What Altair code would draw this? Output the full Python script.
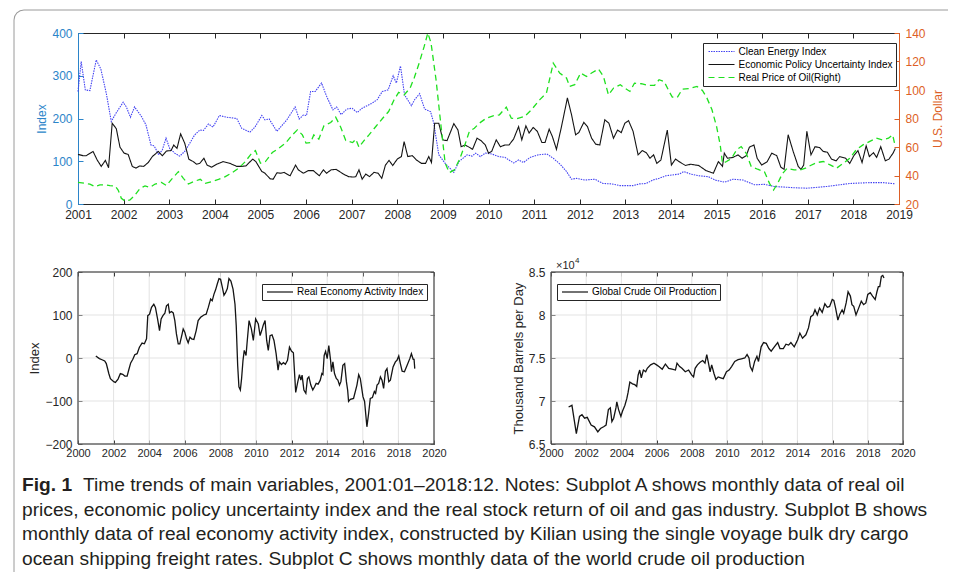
import altair as alt
import pandas as pd

# ---------------- data ----------------
cei = [(2001.00, 263), (2001.07, 333), (2001.16, 267), (2001.26, 265), (2001.40, 337), (2001.50, 316),
       (2001.62, 259), (2001.73, 193), (2001.83, 212), (2001.99, 238), (2002.06, 227), (2002.15, 203),
       (2002.24, 227), (2002.39, 205), (2002.49, 185), (2002.60, 138), (2002.67, 136), (2002.77, 115),
       (2002.85, 127), (2002.93, 154), (2003.01, 130), (2003.12, 119), (2003.23, 112), (2003.34, 123),
       (2003.45, 142), (2003.56, 162), (2003.67, 173), (2003.75, 172), (2003.86, 187), (2003.96, 180),
       (2004.10, 207), (2004.26, 203), (2004.48, 200), (2004.59, 177), (2004.77, 168), (2004.88, 180),
       (2005.03, 207), (2005.10, 197), (2005.19, 199), (2005.36, 170), (2005.58, 197), (2005.76, 227),
       (2005.85, 199), (2005.94, 208), (2006.01, 207), (2006.10, 263), (2006.20, 263), (2006.34, 283),
       (2006.45, 252), (2006.59, 220), (2006.67, 227), (2006.77, 209), (2006.89, 222), (2007.01, 224),
       (2007.12, 214), (2007.23, 224), (2007.45, 236), (2007.56, 244), (2007.67, 263), (2007.80, 267),
       (2007.91, 300), (2007.98, 283), (2008.07, 323), (2008.16, 255), (2008.31, 230), (2008.38, 244),
       (2008.49, 258), (2008.60, 222), (2008.73, 216), (2008.80, 189), (2008.91, 115), (2009.05, 95),
       (2009.24, 74), (2009.35, 99), (2009.53, 115), (2009.64, 112), (2009.72, 119), (2009.82, 111),
       (2009.93, 119), (2010.07, 117), (2010.22, 111), (2010.36, 109), (2010.55, 96), (2010.66, 103),
       (2010.77, 97), (2010.91, 109), (2011.09, 115), (2011.28, 117), (2011.42, 107), (2011.57, 93),
       (2011.71, 76), (2011.82, 58), (2011.93, 60), (2012.11, 56), (2012.33, 58), (2012.51, 48),
       (2012.70, 47), (2012.88, 43), (2013.17, 43), (2013.31, 47), (2013.46, 48), (2013.60, 56),
       (2013.74, 60), (2013.89, 66), (2014.18, 70), (2014.28, 76), (2014.43, 70), (2014.61, 66),
       (2014.82, 64), (2014.97, 56), (2015.18, 51), (2015.36, 58), (2015.58, 56), (2015.83, 45),
       (2016.05, 46), (2016.26, 41), (2016.70, 38), (2016.98, 37), (2017.42, 41), (2017.92, 48),
       (2018.35, 50), (2018.64, 50), (2018.92, 47)]

epu = [(2001.00, 116), (2001.11, 113), (2001.18, 113), (2001.33, 123), (2001.42, 103), (2001.51, 88),
       (2001.60, 102), (2001.67, 85), (2001.75, 189), (2001.84, 176), (2001.92, 133), (2002.01, 119),
       (2002.10, 116), (2002.19, 88), (2002.27, 84), (2002.35, 89), (2002.44, 88), (2002.54, 97),
       (2002.63, 111), (2002.76, 123), (2002.85, 113), (2002.94, 124), (2003.04, 125), (2003.10, 138),
       (2003.17, 130), (2003.25, 164), (2003.34, 142), (2003.43, 105), (2003.53, 99), (2003.60, 93),
       (2003.67, 95), (2003.76, 107), (2003.83, 91), (2003.93, 86), (2004.04, 93), (2004.18, 99),
       (2004.33, 95), (2004.48, 88), (2004.59, 88), (2004.68, 89), (2004.83, 105), (2004.90, 99),
       (2005.03, 76), (2005.10, 72), (2005.21, 59), (2005.28, 58), (2005.36, 73), (2005.44, 72),
       (2005.52, 74), (2005.65, 66), (2005.77, 91), (2005.83, 80), (2005.94, 72), (2006.05, 78),
       (2006.16, 78), (2006.29, 66), (2006.38, 80), (2006.45, 72), (2006.55, 80), (2006.66, 81),
       (2006.82, 70), (2006.93, 64), (2007.04, 63), (2007.09, 64), (2007.16, 80), (2007.23, 58),
       (2007.31, 70), (2007.39, 64), (2007.49, 74), (2007.58, 72), (2007.66, 60), (2007.74, 91),
       (2007.82, 102), (2007.90, 90), (2008.00, 105), (2008.09, 111), (2008.15, 146), (2008.23, 111),
       (2008.33, 113), (2008.42, 103), (2008.53, 95), (2008.62, 95), (2008.69, 111), (2008.75, 97),
       (2008.82, 189), (2008.91, 189), (2009.00, 150), (2009.09, 148), (2009.24, 188), (2009.33, 173),
       (2009.40, 134), (2009.49, 138), (2009.59, 132), (2009.65, 128), (2009.75, 154), (2009.84, 148),
       (2009.93, 138), (2010.00, 119), (2010.07, 123), (2010.17, 150), (2010.26, 134), (2010.36, 138),
       (2010.45, 138), (2010.55, 152), (2010.66, 181), (2010.73, 150), (2010.82, 183), (2010.89, 166),
       (2010.98, 179), (2011.07, 170), (2011.17, 144), (2011.24, 144), (2011.33, 175), (2011.40, 158),
       (2011.49, 128), (2011.60, 181), (2011.73, 248), (2011.82, 209), (2011.91, 162), (2011.98, 167),
       (2012.09, 191), (2012.17, 181), (2012.26, 154), (2012.35, 140), (2012.44, 138), (2012.55, 197),
       (2012.64, 189), (2012.74, 154), (2012.83, 173), (2012.91, 167), (2012.99, 189), (2013.07, 195),
       (2013.17, 170), (2013.28, 115), (2013.37, 125), (2013.46, 120), (2013.54, 107), (2013.62, 115),
       (2013.69, 95), (2013.78, 103), (2013.92, 173), (2014.01, 91), (2014.10, 105), (2014.21, 97),
       (2014.32, 90), (2014.43, 93), (2014.61, 90), (2014.77, 78), (2014.93, 72), (2015.04, 99),
       (2015.13, 88), (2015.17, 119), (2015.24, 107), (2015.36, 109), (2015.47, 115), (2015.56, 107),
       (2015.65, 113), (2015.72, 133), (2015.82, 138), (2015.89, 107), (2015.99, 91), (2016.11, 99),
       (2016.21, 119), (2016.32, 113), (2016.41, 86), (2016.48, 81), (2016.57, 162), (2016.68, 123),
       (2016.79, 88), (2016.85, 81), (2016.91, 91), (2016.98, 170), (2017.07, 115), (2017.16, 134),
       (2017.26, 132), (2017.34, 123), (2017.43, 121), (2017.52, 105), (2017.62, 101), (2017.70, 111),
       (2017.83, 107), (2017.92, 95), (2018.01, 113), (2018.10, 125), (2018.19, 97), (2018.28, 136),
       (2018.35, 111), (2018.44, 120), (2018.51, 109), (2018.60, 134), (2018.70, 101), (2018.78, 105),
       (2018.87, 119), (2018.92, 130)]

oil = [(2001.00, 35.2), (2001.15, 34.5), (2001.26, 34.0), (2001.37, 32.2), (2001.48, 33.4), (2001.59, 33.4),
       (2001.70, 32.9), (2001.81, 32.7), (2001.88, 29.8), (2001.95, 24.0), (2002.03, 22.1), (2002.14, 22.8),
       (2002.25, 26.3), (2002.36, 31.0), (2002.47, 32.7), (2002.58, 31.7), (2002.69, 34.0), (2002.83, 35.2),
       (2002.94, 32.9), (2003.05, 37.3), (2003.20, 42.7), (2003.31, 38.0), (2003.42, 34.0), (2003.53, 35.7),
       (2003.68, 37.3), (2003.79, 34.5), (2003.93, 35.7), (2004.08, 37.3), (2004.23, 39.2), (2004.38, 42.0),
       (2004.52, 45.1), (2004.67, 49.8), (2004.78, 54.5), (2004.89, 57.5), (2005.00, 48.6), (2005.11, 49.8),
       (2005.26, 56.1), (2005.40, 59.1), (2005.55, 62.7), (2005.70, 68.5), (2005.81, 72.0), (2005.92, 68.5),
       (2006.00, 62.7), (2006.10, 63.1), (2006.17, 68.5), (2006.28, 65.5), (2006.39, 74.8), (2006.54, 77.2),
       (2006.65, 80.9), (2006.76, 73.9), (2006.87, 64.5), (2007.02, 63.1), (2007.09, 65.5), (2007.16, 59.8),
       (2007.27, 64.5), (2007.38, 68.5), (2007.53, 74.4), (2007.68, 80.2), (2007.81, 84.9), (2007.93, 93.1),
       (2008.03, 98.3), (2008.15, 96.6), (2008.28, 101.3), (2008.37, 108.4), (2008.48, 118.9), (2008.59, 130.6),
       (2008.67, 140.0), (2008.74, 133.0), (2008.85, 107.2), (2008.96, 74.4), (2009.05, 48.6), (2009.14, 42.0),
       (2009.25, 43.9), (2009.36, 50.9), (2009.47, 60.3), (2009.58, 70.9), (2009.69, 73.2), (2009.80, 76.7),
       (2009.95, 80.2), (2010.10, 81.9), (2010.24, 82.6), (2010.39, 88.0), (2010.50, 80.2), (2010.61, 79.8),
       (2010.79, 81.4), (2010.94, 86.1), (2011.12, 93.1), (2011.27, 97.8), (2011.42, 118.9), (2011.56, 111.9),
       (2011.71, 108.4), (2011.78, 102.5), (2011.89, 103.7), (2012.02, 111.9), (2012.15, 109.5), (2012.26, 111.9),
       (2012.41, 114.7), (2012.52, 109.5), (2012.63, 96.6), (2012.74, 101.3), (2012.89, 103.7), (2012.99, 101.3),
       (2013.10, 99.0), (2013.20, 104.8), (2013.35, 104.4), (2013.49, 103.2), (2013.64, 103.2), (2013.74, 107.2),
       (2013.85, 106.0), (2013.96, 99.0), (2014.03, 95.0), (2014.14, 94.8), (2014.25, 100.6), (2014.39, 100.9),
       (2014.57, 102.5), (2014.69, 99.7), (2014.79, 94.3), (2014.90, 86.1), (2015.00, 74.4), (2015.08, 61.5),
       (2015.13, 48.6), (2015.22, 49.8), (2015.33, 52.1), (2015.44, 58.0), (2015.54, 60.3), (2015.65, 55.6),
       (2015.76, 46.3), (2015.90, 44.4), (2016.05, 42.7), (2016.16, 34.5), (2016.25, 29.8), (2016.34, 34.5),
       (2016.44, 41.1), (2016.55, 45.1), (2016.70, 43.9), (2016.84, 43.9), (2016.95, 45.1), (2017.06, 47.0),
       (2017.20, 49.1), (2017.34, 49.8), (2017.49, 47.4), (2017.63, 45.1), (2017.78, 48.6), (2017.92, 52.1),
       (2018.06, 58.0), (2018.21, 61.5), (2018.35, 63.8), (2018.50, 66.2), (2018.64, 65.0), (2018.77, 66.2),
       (2018.86, 68.5), (2018.92, 60.3)]

rea = [(2001.00, 4.6), (2001.20, -1.5), (2001.35, -4), (2001.50, -7), (2001.59, -13), (2001.73, -36),
       (2001.82, -48), (2002.01, -55), (2002.10, -57), (2002.25, -49), (2002.38, -36), (2002.51, -38),
       (2002.63, -42), (2002.76, -42), (2002.85, -28), (2002.96, -11.5), (2003.08, -3), (2003.19, 7.7),
       (2003.32, 10), (2003.45, 25), (2003.60, 34.6), (2003.73, 33), (2003.85, 44.6), (2003.92, 98.5),
       (2004.02, 102), (2004.13, 117.7), (2004.26, 125), (2004.35, 117.7), (2004.47, 90.8), (2004.58, 63.8),
       (2004.67, 90.8), (2004.77, 98.5), (2004.88, 104), (2004.97, 121.5), (2005.07, 125), (2005.14, 105),
       (2005.25, 108), (2005.35, 105), (2005.44, 87), (2005.53, 56), (2005.63, 33), (2005.72, 33),
       (2005.85, 56), (2005.91, 67.7), (2006.00, 60), (2006.10, 44.6), (2006.19, 35.4), (2006.29, 48.5),
       (2006.38, 44.6), (2006.51, 43), (2006.64, 63.8), (2006.75, 87), (2006.89, 94.6), (2007.07, 100),
       (2007.20, 102), (2007.32, 117.7), (2007.45, 137), (2007.54, 133), (2007.64, 148.5), (2007.73, 158.5),
       (2007.82, 171.5), (2007.92, 184.6), (2008.01, 183), (2008.11, 164), (2008.20, 146), (2008.29, 152),
       (2008.39, 161.5), (2008.48, 184.6), (2008.59, 179), (2008.71, 160), (2008.82, 125), (2008.89, 75),
       (2008.97, -17), (2009.04, -67), (2009.12, -74.6), (2009.19, -48), (2009.27, -5.4), (2009.34, 17.7),
       (2009.44, 6), (2009.51, 40.8), (2009.61, 87), (2009.74, 67.7), (2009.85, 40.8), (2009.98, 90.8),
       (2010.13, 79), (2010.23, 52), (2010.32, 63.8), (2010.41, 77), (2010.51, 87), (2010.60, 40.8),
       (2010.69, 17.7), (2010.79, 52), (2010.90, 54), (2011.01, 40.8), (2011.13, 10), (2011.24, -28.5),
       (2011.31, -9), (2011.43, -15), (2011.54, -10.8), (2011.65, -14.6), (2011.77, -5.4), (2011.88, 25.4),
       (2011.99, 16), (2012.10, 12.3), (2012.23, -80), (2012.35, -55), (2012.44, -38.5), (2012.52, -51.5),
       (2012.59, -40), (2012.69, -74.6), (2012.80, -82), (2012.89, -47.7), (2012.97, -43.8), (2013.08, -63),
       (2013.19, -74.6), (2013.29, -67), (2013.38, -59), (2013.49, -60.8), (2013.61, -51.5), (2013.70, -36),
       (2013.76, -38.5), (2013.83, 6), (2013.91, 15.4), (2014.00, -1.5), (2014.09, 29), (2014.19, -5.4),
       (2014.24, -32), (2014.32, -9), (2014.41, -36), (2014.51, -47.7), (2014.60, -51.5), (2014.69, -63),
       (2014.77, -55), (2014.88, -17), (2014.98, -13), (2015.08, -55), (2015.15, -75), (2015.20, -101),
       (2015.30, -96), (2015.48, -94), (2015.67, -63), (2015.77, -38.5), (2015.86, -48), (2016.01, -90),
       (2016.10, -101), (2016.23, -160), (2016.33, -128), (2016.42, -94), (2016.54, -92), (2016.65, -78),
       (2016.72, -82), (2016.80, -63), (2016.89, -59), (2016.99, -44), (2017.08, -51.5), (2017.17, -70.8),
       (2017.27, -30.8), (2017.36, -24.6), (2017.46, -55), (2017.55, -51.5), (2017.70, -20.8), (2017.83, -9),
       (2017.92, -5.4), (2018.02, 4.6), (2018.11, -13), (2018.21, -30.8), (2018.34, -32), (2018.49, -17),
       (2018.64, -1.5), (2018.73, 10), (2018.83, -3), (2018.88, -3), (2018.92, -24.6)]

prod = [(2001.00, 69300), (2001.19, 69500), (2001.44, 66200), (2001.62, 68200), (2001.76, 68400),
        (2001.91, 68000), (2002.06, 68100), (2002.28, 67200), (2002.47, 67000), (2002.66, 66400),
        (2002.81, 66800), (2002.99, 67000), (2003.13, 67200), (2003.26, 69000), (2003.37, 69200),
        (2003.46, 67600), (2003.56, 68000), (2003.69, 69200), (2003.74, 69900), (2003.84, 69000),
        (2003.97, 68200), (2004.06, 68800), (2004.20, 69500), (2004.31, 70300), (2004.38, 71000),
        (2004.48, 72200), (2004.63, 72000), (2004.76, 71900), (2004.87, 71700), (2004.95, 73000),
        (2005.04, 73600), (2005.13, 72700), (2005.25, 73600), (2005.38, 73400), (2005.47, 73800),
        (2005.66, 74200), (2005.85, 74400), (2006.00, 74200), (2006.13, 74000), (2006.32, 73700),
        (2006.50, 74300), (2006.69, 73800), (2006.88, 73700), (2007.07, 73600), (2007.16, 74400),
        (2007.31, 74000), (2007.44, 73800), (2007.63, 73400), (2007.82, 73600), (2008.00, 73000),
        (2008.10, 72800), (2008.19, 73800), (2008.32, 74200), (2008.47, 74500), (2008.62, 74700),
        (2008.75, 74400), (2008.85, 75400), (2008.94, 74500), (2009.04, 73400), (2009.13, 74200),
        (2009.26, 73200), (2009.37, 72500), (2009.50, 72800), (2009.64, 72700), (2009.79, 72600),
        (2009.97, 73400), (2010.12, 73600), (2010.26, 74000), (2010.44, 74600), (2010.63, 74800),
        (2010.82, 74900), (2011.01, 75000), (2011.14, 75400), (2011.25, 75000), (2011.32, 74000),
        (2011.44, 73500), (2011.57, 74600), (2011.70, 75200), (2011.79, 74600), (2011.94, 76300),
        (2012.08, 76800), (2012.23, 76700), (2012.38, 76100), (2012.51, 75800), (2012.69, 76300),
        (2012.88, 76800), (2013.01, 76100), (2013.20, 76100), (2013.35, 76600), (2013.50, 76500),
        (2013.63, 76800), (2013.82, 76300), (2014.01, 77100), (2014.14, 77900), (2014.29, 77300),
        (2014.48, 77700), (2014.63, 78500), (2014.76, 79800), (2014.89, 80000), (2015.00, 80600),
        (2015.13, 80000), (2015.26, 80800), (2015.41, 80300), (2015.56, 81300), (2015.70, 80900),
        (2015.83, 81000), (2015.98, 81800), (2016.07, 81700), (2016.17, 80800), (2016.30, 79400),
        (2016.41, 80100), (2016.54, 80600), (2016.63, 80200), (2016.77, 81400), (2016.88, 82700),
        (2017.01, 82200), (2017.10, 81200), (2017.20, 81000), (2017.33, 80000), (2017.48, 80800),
        (2017.63, 81600), (2017.76, 81200), (2017.89, 81400), (2018.00, 82400), (2018.14, 82600),
        (2018.27, 82200), (2018.42, 81800), (2018.52, 82700), (2018.60, 83300), (2018.68, 83300),
        (2018.77, 84500), (2018.85, 84600), (2018.92, 84300)]

CEI_NAME = "Clean Energy Index"
EPU_NAME = "Economic Policy Uncertainty Index"
OIL_NAME = "Real Price of Oil(Right)"
REA_NAME = "Real Economy Activity Index"
PROD_NAME = "Global Crude Oil Production"

top_years = list(range(2001, 2020))
left_ticks = [0, 100, 200, 300, 400]
right_ticks = [20, 40, 60, 80, 100, 120, 140]
bottom_years = list(range(2000, 2021, 2))
rea_ticks = [-200, -100, 0, 100, 200]
prod_ticks = [65000, 70000, 75000, 80000, 85000]

TOP_XDOM, LEFT_DOM, RIGHT_DOM = [2001, 2019], [0, 400], [20, 140]
BOT_XDOM, REA_DOM, PROD_DOM = [2000, 2020], [-200, 200], [65000, 85000]

caption_bold = "Fig. 1"
caption_first = ("Time trends of main variables, 2001:01\u20132018:12. Notes: Subplot A shows "
                 "monthly data of real oil")
caption_rest = [
    "prices, economic policy uncertainty index and the real stock return of oil and gas industry. Subplot B shows",
    "monthly data of real economy activity index, constructed by Kilian using the single voyage bulk dry cargo",
    "ocean shipping freight rates. Subplot C shows monthly data of the world crude oil production",
]

# ---------------- layout / style ----------------
W, H = 940, 564
TOPX, TOPY = [70, 891], [196, 25]
BLX, BRX, BY = [70, 426], [543, 895], [436, 264]

FONT = "Liberation Sans"
CAP_FONT = "Liberation Sans"
DARK = "#262626"
GRID = "#e3e3e3"
BLUE_AX = "#2b84c9"
ORANGE = "#dd5f26"
BLUE_LINE = "#4343f2"
GREEN = "#1fe01f"
BLACK = "#141414"
FRAME = "#9a9a9a"


def qs(domain, rng):
    return alt.Scale(domain=domain, range=rng, nice=False, zero=False)


def label_axis(orient, offset, values, color, size=12, pad=3, title=None, title_size=12,
               title_pad=2, fmt=None, label_expr=None, domain=False, angle=None, baseline=None):
    kw = dict(orient=orient, offset=offset, values=values, labels=True, ticks=False, tickSize=0,
              domain=domain, domainColor=color, domainWidth=1, grid=False, labelColor=color,
              labelFont=FONT, labelFontSize=size, labelPadding=pad, labelFlush=False,
              labelOverlap=False, title=title)
    if fmt:
        kw["format"] = fmt
    if label_expr:
        kw["labelExpr"] = label_expr
    if title:
        kw.update(titleFont=FONT, titleFontSize=title_size, titleFontWeight="normal",
                  titleColor=color, titlePadding=title_pad)
    if angle is not None:
        kw["titleAngle"] = angle
    if baseline:
        kw["titleBaseline"] = baseline
    return alt.Axis(**kw)


def tick_axis(orient, offset, values, color, size=5, domain=False):
    return alt.Axis(orient=orient, offset=offset, values=values, labels=False, ticks=True,
                    tickSize=size, tickColor=color, tickWidth=1, domain=domain, domainColor=color,
                    domainWidth=1, grid=False, title=None)


def pairs_df(pairs, name):
    return pd.DataFrame({"t": [p[0] for p in pairs], "v": [p[1] for p in pairs], "series": name})


def legend(x, y, pad=3, row_pad=3):
    # a 26px horizontal sample line drawn as a custom symbol path
    return alt.Legend(orient="none", legendX=x, legendY=y, title=None, direction="vertical",
                      fillColor="white", strokeColor=DARK, padding=pad, labelFont=FONT,
                      labelFontSize=10, labelColor="black", labelLimit=400,
                      symbolType="M-6.5,0H6.5", symbolSize=16, symbolStrokeWidth=1.2,
                      symbolOffset=10, labelOffset=12, rowPadding=row_pad)


layers = []

# ---------------- top panel ----------------
top_df = pd.concat([pairs_df(cei, CEI_NAME), pairs_df(epu, EPU_NAME)], ignore_index=True)
oil_df = pairs_df(oil, OIL_NAME)
top_names = [CEI_NAME, EPU_NAME, OIL_NAME]
top_colors = [BLUE_LINE, BLACK, GREEN]
top_dash = [[1.5, 1], [1, 0], [6, 4]]
top_leg = legend(695, 35, pad=3.5, row_pad=3)

sx_top = qs(TOP_XDOM, TOPX)
sy_left = qs(LEFT_DOM, TOPY)
sy_right = qs(RIGHT_DOM, TOPY)

# inward ticks on bottom edge / left edge
layers.append(alt.Chart(top_df).mark_point(opacity=0).encode(
    x=alt.X("t:Q", scale=sx_top, axis=tick_axis("top", -TOPY[0], top_years, DARK, 5)),
    y=alt.Y("v:Q", scale=sy_left, axis=tick_axis("right", TOPX[0] - W, left_ticks, BLUE_AX, 5)),
))
# inward ticks on right edge
layers.append(alt.Chart(oil_df).mark_point(opacity=0).encode(
    x=alt.X("t:Q", scale=sx_top, axis=None),
    y=alt.Y("v:Q", scale=sy_right, axis=tick_axis("left", -TOPX[1], right_ticks, ORANGE, 5)),
))
layers.append(alt.Chart(top_df).mark_line(strokeWidth=1.1).encode(
    x=alt.X("t:Q", scale=sx_top,
            axis=label_axis("bottom", TOPY[0] - H, top_years, DARK, pad=5, fmt="d", domain=True)),
    y=alt.Y("v:Q", scale=sy_left,
            axis=label_axis("left", -TOPX[0], left_ticks, BLUE_AX, pad=6, title="Index",
                            title_pad=3, domain=True)),
    color=alt.Color("series:N", scale=alt.Scale(domain=top_names, range=top_colors), legend=top_leg),
    strokeDash=alt.StrokeDash("series:N", scale=alt.Scale(domain=top_names, range=top_dash),
                              legend=top_leg),
))
layers.append(alt.Chart(oil_df).mark_line(strokeWidth=1.3).encode(
    x=alt.X("t:Q", scale=sx_top, axis=tick_axis("bottom", TOPY[1] - H, top_years, DARK, 5, domain=True)),
    y=alt.Y("v:Q", scale=sy_right,
            axis=label_axis("right", TOPX[1] - W, right_ticks, ORANGE, pad=6, title="U.S. Dollar",
                            title_pad=7, domain=True, angle=270, baseline="top")),
    color=alt.Color("series:N", scale=alt.Scale(domain=top_names, range=top_colors), legend=None),
    strokeDash=alt.StrokeDash("series:N", scale=alt.Scale(domain=top_names, range=top_dash),
                              legend=None),
))


# ---------------- bottom panels ----------------
def bottom_panel(xr, ydom, yticks, df, name, ytitle, yfmt_expr, leg_x):
    sx = qs(BOT_XDOM, xr)
    sy = qs(ydom, BY)
    out = []
    vg = pd.DataFrame({"t": bottom_years, "y0": ydom[0], "y1": ydom[1]})
    out.append(alt.Chart(vg).mark_rule(color=GRID, strokeWidth=1).encode(
        x=alt.X("t:Q", scale=sx, axis=tick_axis("top", -BY[0], bottom_years, DARK, 4)),
        y=alt.Y("y0:Q", scale=sy, axis=None), y2="y1:Q"))
    hg = pd.DataFrame({"v": yticks, "x0": BOT_XDOM[0], "x1": BOT_XDOM[1]})
    out.append(alt.Chart(hg).mark_rule(color=GRID, strokeWidth=1).encode(
        y=alt.Y("v:Q", scale=sy, axis=tick_axis("right", xr[0] - W, yticks, DARK, 4)),
        x=alt.X("x0:Q", scale=sx, axis=None), x2="x1:Q"))
    box = pd.DataFrame({"x0": [BOT_XDOM[0]], "x1": [BOT_XDOM[1]], "y0": [ydom[0]], "y1": [ydom[1]]})
    out.append(alt.Chart(box).mark_rect(fill="white", fillOpacity=0, stroke=DARK, strokeWidth=1).encode(
        x=alt.X("x0:Q", scale=sx, axis=tick_axis("bottom", BY[1] - H, bottom_years, DARK, 4)),
        x2="x1:Q",
        y=alt.Y("y0:Q", scale=sy, axis=tick_axis("left", -xr[1], yticks, DARK, 4)),
        y2="y1:Q"))
    yax = label_axis("left", -xr[0], yticks, DARK, size=12, pad=6, title=ytitle, title_size=13,
                     title_pad=3, label_expr=yfmt_expr)
    out.append(alt.Chart(df).mark_line(strokeWidth=1.3).encode(
        x=alt.X("t:Q", scale=sx, axis=label_axis("bottom", BY[0] - H, bottom_years, DARK, size=11,
                                                 pad=3, fmt="d")),
        y=alt.Y("v:Q", scale=sy, axis=yax),
        color=alt.Color("series:N", scale=alt.Scale(domain=[name], range=[BLACK]),
                        legend=legend(leg_x, 276)),
    ))
    return out, sx, sy


bl, _, _ = bottom_panel(BLX, REA_DOM, rea_ticks, pairs_df(rea, REA_NAME), REA_NAME, "Index", None, 254)
br, sx_br, sy_br = bottom_panel(BRX, PROD_DOM, prod_ticks, pairs_df(prod, PROD_NAME), PROD_NAME,
                                "Thousand Barrels per Day", "format(datum.value / 10000, '~g')", 549)
layers += bl + br

corner = pd.DataFrame({"x": [BOT_XDOM[0]], "y": [PROD_DOM[1]]})
layers.append(alt.Chart(corner).mark_text(text="\u00d710", align="left", baseline="bottom", dx=5, dy=-1,
                                          font=FONT, fontSize=11, color=DARK).encode(
    x=alt.X("x:Q", scale=sx_br, axis=None), y=alt.Y("y:Q", scale=sy_br, axis=None)))
layers.append(alt.Chart(corner).mark_text(text="4", align="left", baseline="bottom", dx=24, dy=-7,
                                          font=FONT, fontSize=8, color=DARK).encode(
    x=alt.X("x:Q", scale=sx_br, axis=None), y=alt.Y("y:Q", scale=sy_br, axis=None)))

# ---------------- caption ----------------
cap_scale = qs([0, 3], [477, 551])
CAP_SIZE = 19.2
CAP_COLOR = "#231f20"
layers.append(alt.Chart(pd.DataFrame({"line": [0], "text": [caption_bold]})).mark_text(
    align="left", baseline="middle", font=CAP_FONT, fontSize=CAP_SIZE, fontWeight="bold",
    color=CAP_COLOR).encode(
    x=alt.value(14), y=alt.Y("line:Q", scale=cap_scale, axis=None), text="text:N"))
layers.append(alt.Chart(pd.DataFrame({"line": [0], "text": [caption_first]})).mark_text(
    align="left", baseline="middle", font=CAP_FONT, fontSize=CAP_SIZE, color=CAP_COLOR).encode(
    x=alt.value(75), y=alt.Y("line:Q", scale=cap_scale, axis=None), text="text:N"))
layers.append(alt.Chart(pd.DataFrame({"line": [1, 2, 3], "text": caption_rest})).mark_text(
    align="left", baseline="middle", font=CAP_FONT, fontSize=CAP_SIZE, color=CAP_COLOR).encode(
    x=alt.value(14), y=alt.Y("line:Q", scale=cap_scale, axis=None), text="text:N"))

# ---------------- card frame ----------------
one = pd.DataFrame({"k": [0]})
layers.append(alt.Chart(one).mark_rule(color=FRAME, strokeWidth=1).encode(
    x=alt.value(16), x2=alt.value(W), y=alt.value(2)))
layers.append(alt.Chart(one).mark_rule(color=FRAME, strokeWidth=1).encode(
    x=alt.value(6), y=alt.value(12), y2=alt.value(H)))
layers.append(alt.Chart(one).mark_arc(theta=4.7124, theta2=6.2832, innerRadius=9.5, outerRadius=10.5,
                                      color=FRAME).encode(x=alt.value(16), y=alt.value(12)))

chart = alt.layer(*layers).resolve_scale(
    x="independent", y="independent", color="independent", strokeDash="independent"
).resolve_axis(x="independent", y="independent").resolve_legend(
    color="independent", strokeDash="independent"
).properties(
    width=W, height=H, autosize=alt.AutoSizeParams(type="none"), padding=0, background="white"
).configure_view(strokeWidth=0)

chart.save("out.html", embed_options={"renderer": "svg", "actions": False})
